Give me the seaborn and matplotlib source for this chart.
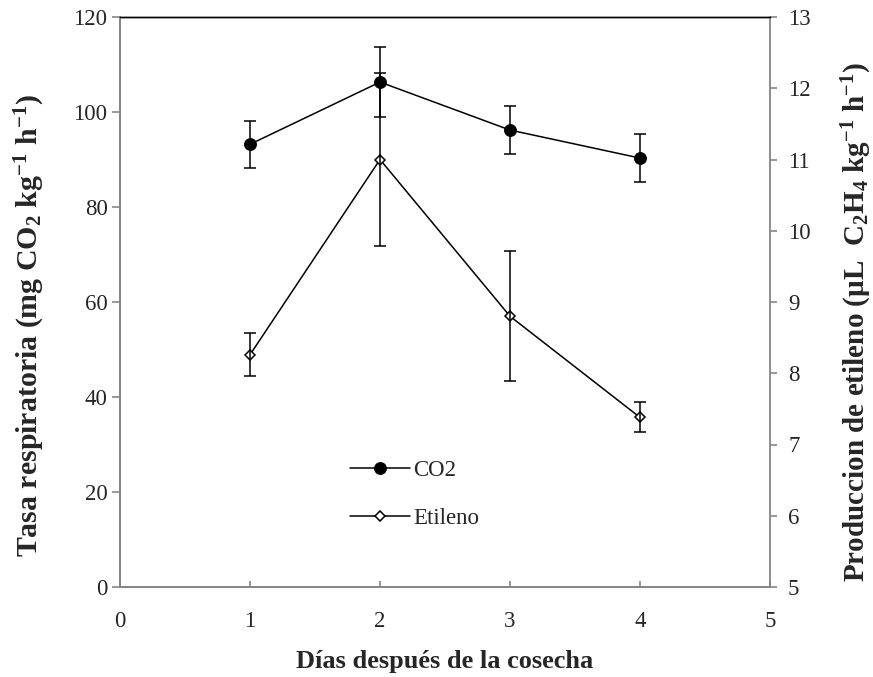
import matplotlib
matplotlib.use("Agg")
import matplotlib.pyplot as plt
import seaborn as sns
import pandas as pd
import numpy as np

# ---- data ----
dias = [1, 2, 3, 4]
co2 = [93.2, 106.3, 96.2, 90.3]
co2_err = [5.0, 7.3, 5.0, 5.0]
etileno = [8.26, 11.0, 8.80, 7.38]
etileno_err = [0.30, 1.22, 0.91, 0.21]

xticks = [0, 1, 2, 3, 4, 5]
yticks_left = [0, 20, 40, 60, 80, 100, 120]
yticks_right = [5, 6, 7, 8, 9, 10, 11, 12, 13]

sns.set_theme(style="white")
plt.rcParams['font.family'] = ['Liberation Serif', 'DejaVu Serif']
plt.rcParams['mathtext.fontset'] = 'custom'
plt.rcParams['mathtext.rm'] = 'Liberation Serif:bold'
plt.rcParams['mathtext.it'] = 'Liberation Serif:bold'
plt.rcParams['mathtext.bf'] = 'Liberation Serif:bold'

df_co2 = pd.DataFrame({"dia": dias, "valor": co2})
df_et = pd.DataFrame({"dia": dias, "valor": etileno})

fig = plt.figure(figsize=(8.73, 6.77), dpi=100)
ax = fig.add_axes([120/873, 1-587/677, 650/873, 570/677])
ax2 = ax.twinx()

gray = "#868686"
lw = 1.1
tfs = 16.5

sns.lineplot(data=df_co2, x="dia", y="valor", ax=ax, color="black", lw=lw,
             marker="o", markersize=8.5, markerfacecolor="black",
             markeredgecolor="black", label="CO2", legend=False)
ax.errorbar(dias, co2, yerr=co2_err, fmt="none", ecolor="black",
            elinewidth=lw, capsize=4.5, capthick=lw)

sns.lineplot(data=df_et, x="dia", y="valor", ax=ax2, color="black", lw=lw,
             marker="D", markersize=5.5, markerfacecolor="white",
             markeredgecolor="black", markeredgewidth=1.1,
             label="Etileno", legend=False)
ax2.errorbar(dias, etileno, yerr=etileno_err, fmt="none", ecolor="black",
             elinewidth=lw, capsize=4.5, capthick=lw)

ax.set_xlim(0, 5)
ax.set_ylim(0, 120)
ax2.set_ylim(5, 13)
ax.set_xticks(xticks)
ax.set_yticks(yticks_left)
ax2.set_yticks(yticks_right)
ax.set_xticklabels([str(t) for t in xticks])
ax.set_yticklabels([str(t) for t in yticks_left])
ax2.set_yticklabels([str(t) for t in yticks_right])

for a in (ax, ax2):
    for s in ("left", "right", "bottom"):
        a.spines[s].set_color(gray)
        a.spines[s].set_linewidth(1.3)
    a.spines["top"].set_color("black")
    a.spines["top"].set_linewidth(1.0)
ax.spines["right"].set_visible(False)

ax.tick_params(axis="y", direction="out", length=6, width=1.2, color=gray,
               labelsize=tfs, pad=3, left=True)
ax.tick_params(axis="x", direction="in", length=4, width=1.2, color=gray,
               labelsize=tfs, pad=17, bottom=True)
ax2.tick_params(axis="y", direction="out", length=5, width=1.2, color=gray,
                labelsize=tfs, pad=8, right=True)

ax.set_xlabel("Días después de la cosecha", fontsize=19, fontweight="bold",
              labelpad=13)
ax.set_ylabel(r"Tasa respiratoria (mg CO$_{2}$ kg$^{-1}$ h$^{-1}$)",
              fontsize=21.5, fontweight="bold")
ax2.set_ylabel(r"Produccion de etileno (µL  C$_{2}$H$_{4}$ kg$^{-1}$ h$^{-1}$)",
               fontsize=21, fontweight="bold", rotation=90)
ax.yaxis.set_label_coords((47-120)/650, (587-326)/570)
ax2.yaxis.set_label_coords((840-120)/650, (587-322)/570)
ax.grid(False)
ax2.grid(False)

h1, l1 = ax.get_legend_handles_labels()
h2, l2 = ax2.get_legend_handles_labels()
leg = ax.legend(h1 + h2, l1 + l2, loc="upper left",
                bbox_to_anchor=((339-120)/650, (587-449)/570),
                frameon=False, fontsize=tfs, handlelength=2.6,
                handletextpad=0.15, labelspacing=1.15, borderpad=0)

fig.savefig("out.png", dpi=100)
